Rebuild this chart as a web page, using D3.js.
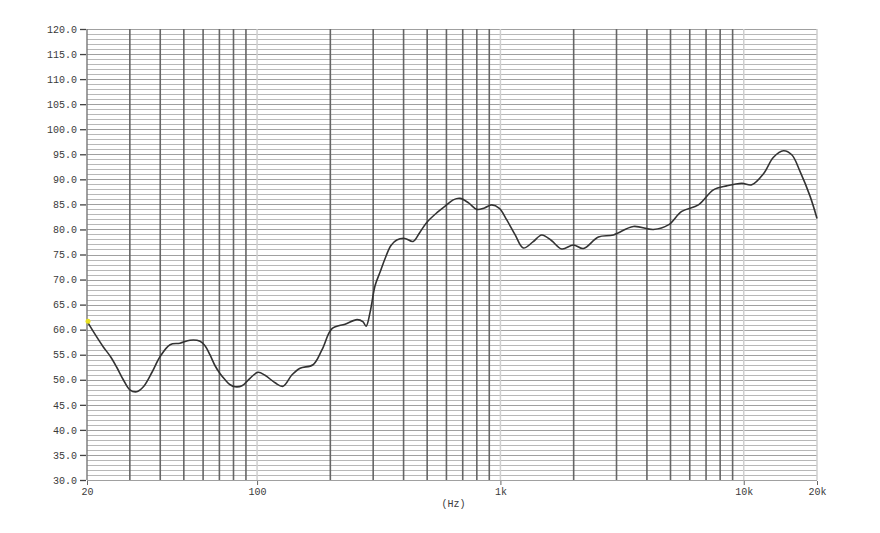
<!DOCTYPE html>
<html>
<head>
<meta charset="utf-8">
<script src="https://cdn.jsdelivr.net/npm/d3@7/dist/d3.min.js"></script>
<style>
html,body{margin:0;padding:0;background:#fff;}
svg{display:block;}
</style>
</head>
<body>
<svg id="chart" width="880" height="533"></svg>
<script>
// Frequency response (Hz, dB SPL)
const freqs = [20, 21.5, 23.3, 25, 26.5, 28.2, 30, 32, 34.1, 37, 39.9, 43.9, 48.2, 53, 58.3, 61.1, 64, 67.2, 70.5, 73.9, 77.5, 81.2, 86.7, 93.5, 100.9, 107.8, 118.6, 127.8, 139.2, 150.2, 169.8, 184.9, 203.2, 229.9, 257.6, 272, 280.6, 291.4, 305.5, 320.3, 335.8, 355, 375, 405, 437.5, 465, 498, 550, 601, 640, 682, 740, 800, 860, 921, 990, 1062, 1150, 1242, 1360, 1478, 1620, 1787, 1995, 2193, 2528, 2913, 3518, 4255, 4900, 5562, 6514, 7505, 8518, 9818, 10790, 12050, 13250, 14560, 15750, 17030, 18740, 20000];
const spl   = [61.7, 59.2, 56.6, 54.6, 52.5, 50.0, 48.0, 47.6, 48.6, 51.5, 54.6, 57.0, 57.3, 57.9, 57.7, 56.8, 55.0, 52.8, 51.2, 50.0, 49.0, 48.6, 48.8, 50.3, 51.5, 50.9, 49.4, 48.7, 51.0, 52.3, 53.0, 56.0, 60.2, 61.1, 62.0, 61.6, 60.7, 63.5, 68.8, 71.5, 74.2, 76.8, 77.9, 78.2, 77.6, 79.3, 81.4, 83.4, 84.9, 85.9, 86.2, 85.3, 84.0, 84.3, 84.9, 84.2, 81.9, 78.9, 76.3, 77.5, 78.9, 77.8, 76.1, 76.9, 76.2, 78.5, 78.9, 80.6, 80.0, 80.9, 83.6, 84.9, 87.9, 88.7, 89.2, 88.9, 91.1, 94.4, 95.7, 94.9, 91.6, 86.6, 82.2];

const yTicks = [30, 35, 40, 45, 50, 55, 60, 65, 70, 75, 80, 85, 90, 95, 100, 105, 110, 115, 120];
const xTickValues = [20, 100, 1000, 10000, 20000];
const xTickLabels = ["20", "100", "1k", "10k", "20k"];
const xGridDark = [30, 40, 50, 60, 70, 80, 90, 200, 300, 400, 500, 600, 700, 800, 900, 2000, 3000, 4000, 5000, 6000, 7000, 8000, 9000];
const xGridLight = [100, 1000, 10000, 20000];
const xUnit = "(Hz)";

const svg = d3.select("#chart");
const L = 87, R = 817, T = 29, B = 480;
const FONT = "'Liberation Mono', 'DejaVu Sans Mono', monospace";

const x = d3.scaleLog().domain([20, 20000]).range([L, R]);
const y = d3.scaleLinear().domain([30, 120]).range([B, T]);

// horizontal 1 dB grid
const hLines = d3.range(30, 121, 1);
svg.append("g").selectAll("line").data(hLines).join("line")
  .attr("x1", L).attr("x2", R)
  .attr("y1", d => Math.round(y(d)) + 0.5).attr("y2", d => Math.round(y(d)) + 0.5)
  .attr("stroke", d => (d % 5 === 0) ? "#a0a0a0" : "#b8b8b8")
  .attr("stroke-width", 1.2);

// light vertical lines (decades)
svg.append("g").selectAll("line").data(xGridLight).join("line")
  .attr("x1", d => x(d)).attr("x2", d => x(d))
  .attr("y1", T).attr("y2", B)
  .attr("stroke", "#cfcfcf").attr("stroke-width", 1.5);

// dark vertical lines
svg.append("g").selectAll("line").data(xGridDark).join("line")
  .attr("x1", d => x(d)).attr("x2", d => x(d))
  .attr("y1", T).attr("y2", B)
  .attr("stroke", "#666").attr("stroke-width", 1.6);

// left border
svg.append("line").attr("x1", L).attr("x2", L).attr("y1", T).attr("y2", B)
  .attr("stroke", "#777").attr("stroke-width", 1.4);

// Y axis
const yAxis = d3.axisLeft(y).tickValues(yTicks).tickSize(6).tickPadding(3)
  .tickFormat(d => d3.format(".1f")(d));
const gy = svg.append("g").attr("transform", `translate(${L - 1},0)`).call(yAxis);
gy.select(".domain").remove();
gy.selectAll(".tick line").attr("stroke", "#444").attr("stroke-width", 1.3);
gy.selectAll(".tick text").attr("fill", "#3a3a3a")
  .style("font-family", FONT).style("font-size", "10px");

// X axis
const xAxis = d3.axisBottom(x).tickValues(xTickValues).tickSize(4).tickPadding(3)
  .tickFormat((d, i) => xTickLabels[i]);
const gx = svg.append("g").attr("transform", `translate(0,${B + 1})`).call(xAxis);
gx.select(".domain").remove();
gx.selectAll(".tick line").attr("stroke", "#666").attr("stroke-width", 1);
gx.selectAll(".tick text").attr("fill", "#3a3a3a")
  .style("font-family", FONT).style("font-size", "10px");

svg.append("text").attr("x", x(1000) - 47).attr("y", 507)
  .attr("text-anchor", "middle").attr("fill", "#3a3a3a")
  .style("font-family", FONT).style("font-size", "10px").text(xUnit);

// curve
const data = freqs.map((f, i) => [f, spl[i]]);
const line = d3.line().x(d => x(d[0])).y(d => y(d[1])).curve(d3.curveCatmullRom.alpha(0.5));
svg.append("path").datum(data).attr("d", line)
  .attr("fill", "none").attr("stroke", "#333").attr("stroke-width", 1.6)
  .attr("stroke-linejoin", "round");

// start marker
svg.append("circle").attr("cx", x(freqs[0]) + 1).attr("cy", y(spl[0])).attr("r", 2.5)
  .attr("fill", "#e8e020");
</script>
</body>
</html>
